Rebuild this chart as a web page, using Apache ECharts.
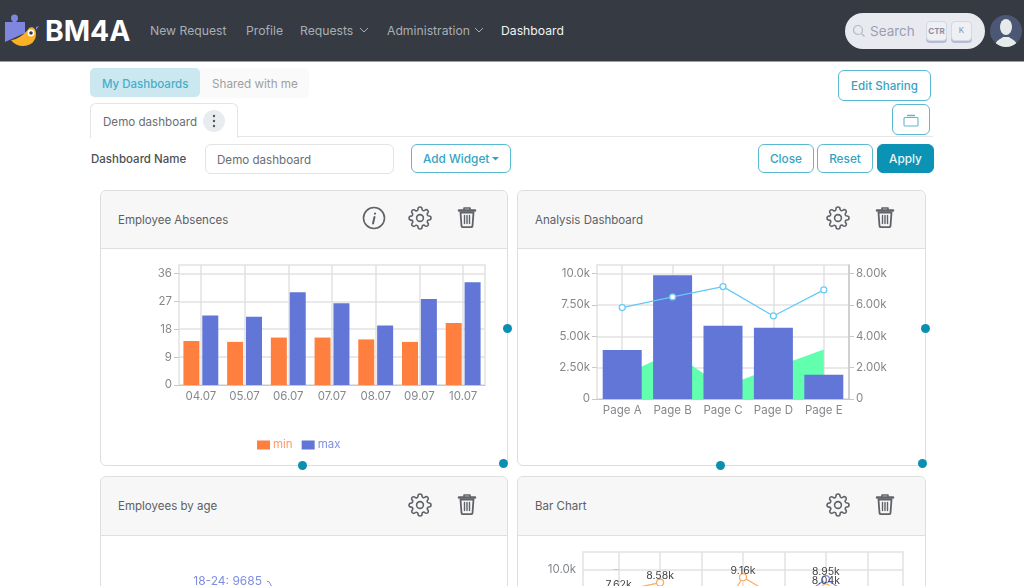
<!DOCTYPE html>
<html>
<head>
<meta charset="utf-8">
<title>Demo dashboard</title>
<script src="https://cdn.jsdelivr.net/npm/echarts@6/dist/echarts.min.js"></script>
<style>
html, body { margin: 0; padding: 0; width: 1024px; height: 586px; overflow: hidden; background: #fff; }
body, div, span { font-family: Inter, "Noto Sans", sans-serif; }
.a { position: absolute; box-sizing: border-box; }
.t { position: absolute; white-space: nowrap; line-height: 16px; }
.nav { top: 23px; font-size: 12.2px; color: #a9aeb5; }
.btn { position: absolute; box-sizing: border-box; height: 29px; top: 144px; border: 1.5px solid #5cb9d2; border-radius: 6px; color: #36a3c2; font-size: 11.8px; font-weight: 500; text-align: center; line-height: 28px; background: #fff; }
.card { position: absolute; box-sizing: border-box; background: #fff; border: 1px solid #dedede; border-radius: 6px; }
.head { position: absolute; left: 0; right: 0; top: 0; height: 58px; background: #f7f7f7; border-bottom: 1px solid #e0e0e0; border-radius: 6px 6px 0 0; }
.title { position: absolute; left: 17px; top: 21px; line-height: 16px; font-size: 11.5px; color: #5b6066; white-space: nowrap; }
.ico { position: absolute; width: 24px; height: 24px; fill: none; stroke: #5f6368; stroke-width: 1.6; stroke-linecap: round; stroke-linejoin: round; }
.dot { position: absolute; width: 9px; height: 9px; border-radius: 50%; background: #0a8fb0; }
.chart { position: absolute; }
</style>
</head>
<body>
<svg width="0" height="0" style="position:absolute">
  <symbol id="gear" viewBox="0 0 24 24"><circle cx="12" cy="12" r="3.4"/><path d="M19.4 15a1.65 1.65 0 0 0 .33 1.82l.06.06a2 2 0 0 1 0 2.83 2 2 0 0 1-2.83 0l-.06-.06a1.65 1.65 0 0 0-1.82-.33 1.65 1.65 0 0 0-1 1.51V21a2 2 0 0 1-2 2 2 2 0 0 1-2-2v-.09A1.65 1.65 0 0 0 9 19.4a1.65 1.65 0 0 0-1.82.33l-.06.06a2 2 0 0 1-2.83 0 2 2 0 0 1 0-2.83l.06-.06a1.65 1.65 0 0 0 .33-1.82 1.65 1.65 0 0 0-1.51-1H3a2 2 0 0 1-2-2 2 2 0 0 1 2-2h.09A1.65 1.65 0 0 0 4.6 9a1.65 1.65 0 0 0-.33-1.82l-.06-.06a2 2 0 0 1 0-2.83 2 2 0 0 1 2.83 0l.06.06a1.65 1.65 0 0 0 1.82.33H9a1.65 1.65 0 0 0 1-1.51V3a2 2 0 0 1 2-2 2 2 0 0 1 2 2v.09a1.65 1.65 0 0 0 1 1.51 1.65 1.65 0 0 0 1.82-.33l.06-.06a2 2 0 0 1 2.83 0 2 2 0 0 1 0 2.83l-.06.06a1.65 1.65 0 0 0-.33 1.82V9a1.65 1.65 0 0 0 1.51 1H21a2 2 0 0 1 2 2 2 2 0 0 1-2 2h-.09a1.65 1.65 0 0 0-1.51 1z"/></symbol>
  <symbol id="trash" viewBox="0 0 24 24"><path d="M4 5.5h16" stroke-width="2.4"/><path d="M9 4.5V3h6v1.5" stroke-width="1.6"/><path d="M5.5 7.5l1 13.5a1.5 1.5 0 0 0 1.5 1.2h8a1.5 1.5 0 0 0 1.5-1.2l1-13.5z" stroke-width="1.8"/><path d="M9.5 10.5v8M12 10.5v8M14.5 10.5v8" stroke-width="1.4"/></symbol>
</svg>

<!-- top bar -->
<div class="a" style="left:0;top:0;width:1024px;height:62px;background:#353a43;border-bottom:1px solid #9a9da1"></div>
<svg class="a" style="left:3px;top:14px" width="36" height="34" viewBox="0 0 36 34">
  <path d="M2 8h8c-1-1-2-2-2-4a3.5 3.5 0 0 1 7 0c0 2-1 3-2 4h9v11L2 28z" fill="#7f86dd"/>
  <path d="M8 26c6 0 14-6 18-12 4-2 7 1 7 6 0 7-5 12-13 12-5 0-9-2-12-6z" fill="#fbb025"/>
  <path d="M33 13l3-1-3 4z" fill="#7f86dd"/>
  <circle cx="28" cy="19" r="3.4" fill="#fff"/><circle cx="28" cy="19" r="1.8" fill="#353a43"/>
</svg>
<div class="t" style="left:45px;top:16px;line-height:30px;font-size:28.3px;font-weight:700;color:#fff">BM4A</div>
<div class="t nav" style="left:150px">New Request</div>
<div class="t nav" style="left:246px">Profile</div>
<div class="t nav" style="left:300px">Requests</div>
<svg class="a" style="left:359px;top:27px" width="10" height="7"><path d="M1 1l4 4 4-4" fill="none" stroke="#a9aeb5"/></svg>
<div class="t nav" style="left:387px">Administration</div>
<svg class="a" style="left:474px;top:27px" width="10" height="7"><path d="M1 1l4 4 4-4" fill="none" stroke="#a9aeb5"/></svg>
<div class="t nav" style="left:501px;color:#f2f3f4">Dashboard</div>

<div class="a" style="left:845px;top:13px;width:140px;height:36px;border-radius:18px;background:#e8eaef"></div>
<svg class="a" style="left:852px;top:24px" width="14" height="14"><circle cx="6" cy="6" r="4.5" fill="none" stroke="#b4b8c4" stroke-width="1.2"/><path d="M9.5 9.5l3 3" stroke="#b4b8c4" stroke-width="1.2"/></svg>
<div class="t" style="left:870px;top:23px;font-size:13.5px;color:#9a9fb3">Search</div>
<div class="a" style="left:926px;top:21px;width:21px;height:20px;background:#eef0f5;border-radius:4px;box-shadow:0 2px 0 #b9b9d6;border:1px solid #d5d7e2;text-align:center;font-size:8px;font-weight:700;line-height:18px;color:#8a8fa3">CTR</div>
<div class="a" style="left:951px;top:21px;width:21px;height:20px;background:#eef0f5;border-radius:4px;box-shadow:0 2px 0 #b9b9d6;border:1px solid #d5d7e2;text-align:center;font-size:8px;line-height:16px;color:#8a8fa3">K</div>
<svg class="a" style="left:990px;top:15px" width="32" height="32" viewBox="0 0 32 32">
  <clipPath id="ac"><circle cx="16" cy="16" r="16"/></clipPath>
  <circle cx="16" cy="16" r="16" fill="#4b5775"/>
  <g clip-path="url(#ac)" fill="#e6ebe9"><ellipse cx="16" cy="12" rx="6" ry="8"/><path d="M5 32c0-7 6-8 8-10h6c2 2 8 3 8 10z"/></g>
</svg>

<!-- tabs row -->
<div class="a" style="left:90px;top:68px;width:219px;height:30px;background:#fafafa;border-radius:5px"></div>
<div class="a" style="left:90px;top:68px;width:110px;height:29px;background:#cbe7ef;border-radius:5px"></div>
<div class="t" style="left:102px;top:75.5px;font-size:11.5px;font-weight:500;color:#46aecb">My Dashboards</div>
<div class="t" style="left:212px;top:75.5px;font-size:11.7px;color:#a0a0a0">Shared with me</div>
<div class="btn" style="left:838px;top:70px;width:93px;height:31px;line-height:30px;font-size:11.6px">Edit Sharing</div>
<div class="btn" style="left:892px;top:104px;width:38px;height:31px"></div>
<svg class="a" style="left:903px;top:113px" width="16" height="14"><path d="M4 2.5h8" stroke="#5cb9d2" stroke-width="1.5"/><rect x="1" y="4.5" width="14" height="8.5" rx="1" fill="none" stroke="#5cb9d2" stroke-width="1.1"/></svg>
<div class="a" style="left:237px;top:136px;width:696px;height:1px;background:#e6e6e6"></div>
<div class="a" style="left:90px;top:103px;width:148px;height:35px;background:#fff;border:1px solid #e4e4e4;border-bottom:0;border-radius:6px 6px 0 0"></div>
<div class="t" style="left:103px;top:113.500px;font-size:11.6px;color:#6a6e73">Demo dashboard</div>
<div class="a" style="left:203px;top:110px;width:22px;height:22px;border-radius:50%;background:#e9ecef"></div>
<svg class="a" style="left:212px;top:113px" width="4" height="16"><circle cx="2" cy="3" r="1.2" fill="#555"/><circle cx="2" cy="8" r="1.2" fill="#555"/><circle cx="2" cy="13" r="1.2" fill="#555"/></svg>

<!-- name row -->
<div class="t" style="left:91px;top:151px;font-size:11.5px;font-weight:500;color:#4b4f54">Dashboard Name</div>
<div class="a" style="left:205px;top:144px;width:189px;height:30px;border:1px solid #e3e3e3;border-radius:6px"></div>
<div class="t" style="left:217px;top:151.500px;font-size:11.6px;color:#6a6e73">Demo dashboard</div>
<div class="btn" style="left:411px;width:100px;text-align:left;padding-left:11px">Add Widget</div>
<svg class="a" style="left:492px;top:157px" width="8" height="4"><path d="M0 0h7l-3.500 3.500z" fill="#36a3c2"/></svg>
<div class="btn" style="left:758px;width:56px">Close</div>
<div class="btn" style="left:817px;width:56px">Reset</div>
<div class="btn" style="left:877px;width:57px;background:#0b93b5;border-color:#0b93b5;color:#eaf6fa">Apply</div>

<!-- widgets -->
<div class="card" style="left:100px;top:190px;width:408px;height:276px"><div class="head" style="height:57px"><div class="title">Employee Absences</div></div></div>
<div class="card" style="left:517px;top:190px;width:409px;height:276px"><div class="head" style="height:57px"><div class="title">Analysis Dashboard</div></div></div>
<div class="card" style="left:100px;top:476px;width:408px;height:300px"><div class="head"><div class="title">Employees by age</div></div></div>
<div class="card" style="left:517px;top:476px;width:409px;height:300px"><div class="head"><div class="title">Bar Chart</div></div></div>

<svg class="ico" style="left:362px;top:206px" viewBox="0 0 24 24"><circle cx="12" cy="12" r="10.500"/><path d="M13 7.500v.2M12.500 11l-1.500 6.500" stroke-width="2"/></svg>
<svg class="ico" style="left:408px;top:206px"><use href="#gear"/></svg>
<svg class="ico" style="left:455px;top:205px"><use href="#trash"/></svg>
<svg class="ico" style="left:826px;top:206px"><use href="#gear"/></svg>
<svg class="ico" style="left:873px;top:205px"><use href="#trash"/></svg>
<svg class="ico" style="left:408px;top:493px"><use href="#gear"/></svg>
<svg class="ico" style="left:455px;top:492px"><use href="#trash"/></svg>
<svg class="ico" style="left:826px;top:493px"><use href="#gear"/></svg>
<svg class="ico" style="left:873px;top:492px"><use href="#trash"/></svg>

<div id="et1" class="chart" style="left:100px;top:249px;width:407px;height:216px"></div>
<div id="et2" class="chart" style="left:517px;top:249px;width:408px;height:216px"></div>
<div id="et3" class="chart" style="left:100px;top:536px;width:407px;height:240px"></div>
<div id="et4" class="chart" style="left:517px;top:536px;width:408px;height:240px"></div>

<div class="dot" style="left:503px;top:324px"></div>
<div class="dot" style="left:921px;top:324px"></div>
<div class="dot" style="left:298px;top:461px"></div>
<div class="dot" style="left:499px;top:459px"></div>
<div class="dot" style="left:716px;top:461px"></div>
<div class="dot" style="left:918px;top:459px"></div>

<script>
// Employee Absences
var absenceDays = ['04.07', '05.07', '06.07', '07.07', '08.07', '09.07', '10.07'];
var absenceMin = [14.2, 13.9, 15.3, 15.3, 14.7, 13.9, 20.0];
var absenceMax = [22.4, 22.0, 29.9, 26.4, 19.2, 27.7, 33.1];
var absenceTicks = [0, 9, 18, 27, 36];

// Analysis Dashboard
var pageNames = ['Page A', 'Page B', 'Page C', 'Page D', 'Page E'];
var pageBars = [3900, 9870, 5850, 5690, 1940];
var pageLine = [5830, 6510, 7170, 5300, 6960];
var pageArea = [1860, 3750, 960, 2500, 3940];
var pageLeftTicks = [0, 2500, 5000, 7500, 10000];
var pageRightTicks = [0, 2000, 4000, 6000, 8000];

// Employees by age, only the first label is above the fold
var ageNames = ['18-24'];
var ageValues = [9685];

// Bar Chart, cut off by the window, lower points are rough guesses
var barIndex = [0, 1, 2, 3, 4, 5, 6];
var barOrange = [7620, 8580, 2000, 9160, 6500, 8040, 5000];
var barBlue = [5200, 4100, 6300, 3900, 5800, 8950, 6100];
var barTicks = [0, 2500, 5000, 7500, 10000];

var textColor = '#85888c';
var lineColor = '#e2e2e2';
var axisColor = '#c8c8c8';
var orange = '#ff7f3f';
var blue = '#6176d6';
var labelSize = 11.5;

function fmtK(v) {
    if (v == 0) return '0';
    return (v / 1000).toFixed(v >= 10000 ? 1 : 2) + 'k';
}

~function () {
    var myChart = echarts.init(et1);
    var option = {
        animation: false,
        textStyle: {fontFamily: 'Inter'},
        legend: {
            left: 152,
            top: 185,
            itemWidth: 13,
            itemHeight: 9,
            itemGap: 9,
            icon: 'rect',
            textStyle: {fontSize: labelSize, padding: [0, 0, 0, -2]},
            data: [
                {name: 'min', textStyle: {color: '#ff9a68'}},
                {name: 'max', textStyle: {color: '#7f90e2'}}
            ]
        },
        grid: {left: 79, top: 16, width: 306, height: 120, show: true, borderColor: lineColor, borderWidth: 1.5},
        xAxis: {
            type: 'category',
            data: absenceDays,
            axisLine: {lineStyle: {color: axisColor}},
            axisTick: {alignWithLabel: true, length: 5, lineStyle: {color: axisColor}},
            axisLabel: {color: textColor, fontSize: labelSize, margin: 6, interval: 0},
            splitLine: {show: true, alignWithLabel: true, interval: 0, lineStyle: {color: lineColor, width: 1.5}}
        },
        yAxis: {
            type: 'value',
            min: 0,
            max: 38.7,
            axisLine: {show: false},
            axisTick: {show: true, length: 5, customValues: absenceTicks, lineStyle: {color: axisColor}},
            axisLabel: {color: textColor, fontSize: labelSize, margin: 7, customValues: absenceTicks},
            splitLine: {show: true, lineStyle: {color: lineColor, width: 1.5}}
        },
        series: [
            {
                name: 'min',
                type: 'bar',
                data: absenceMin,
                barWidth: 16,
                barGap: '18%',
                itemStyle: {color: orange}
            },
            {
                name: 'max',
                type: 'bar',
                data: absenceMax,
                barWidth: 16,
                itemStyle: {color: blue}
            }
        ]
    };
    myChart.setOption(option);
}();

~function () {
    var myChart = echarts.init(et2);
    var option = {
        animation: false,
        textStyle: {fontFamily: 'Inter'},
        grid: {left: 80, top: 16, width: 252, height: 134, show: true, borderColor: lineColor, borderWidth: 1.5},
        xAxis: {
            type: 'category',
            data: pageNames,
            axisLine: {lineStyle: {color: axisColor}},
            axisTick: {alignWithLabel: true, length: 5, lineStyle: {color: axisColor}},
            axisLabel: {color: textColor, fontSize: labelSize, margin: 6, interval: 0},
            splitLine: {show: true, alignWithLabel: true, interval: 0, lineStyle: {color: lineColor, width: 1.5}}
        },
        yAxis: [
            {
                type: 'value',
                min: 0,
                max: 10686,
                axisLine: {show: false},
                axisTick: {show: true, length: 5, customValues: pageLeftTicks, lineStyle: {color: axisColor}},
                axisLabel: {color: textColor, fontSize: labelSize, margin: 7, customValues: pageLeftTicks, formatter: fmtK},
                splitLine: {show: true, lineStyle: {color: lineColor, width: 1.5}}
            },
            {
                type: 'value',
                min: 0,
                max: 8549,
                position: 'right',
                axisLine: {show: true, lineStyle: {color: axisColor, width: 1.5}},
                axisTick: {show: true, length: 5, customValues: pageRightTicks, lineStyle: {color: axisColor}},
                axisLabel: {color: textColor, fontSize: labelSize, margin: 7, customValues: pageRightTicks, formatter: fmtK},
                splitLine: {show: false}
            }
        ],
        series: [
            {
                type: 'line',
                data: pageArea,
                showSymbol: false,
                lineStyle: {width: 0},
                areaStyle: {color: '#62ffae', opacity: 1},
                z: 1
            },
            {
                type: 'bar',
                data: pageBars,
                barWidth: 39,
                itemStyle: {color: blue},
                z: 2
            },
            {
                type: 'line',
                yAxisIndex: 1,
                data: pageLine,
                symbol: 'circle',
                symbolSize: 6,
                lineStyle: {color: '#64c8f7', width: 1.2},
                itemStyle: {color: '#fff', borderColor: '#64c8f7', borderWidth: 1.2},
                z: 3
            }
        ]
    };
    myChart.setOption(option);
}();

~function () {
    var myChart = echarts.init(et3);
    var option = {
        animation: false,
        textStyle: {fontFamily: 'Inter'},
        series: [
            {
                type: 'pie',
                center: [220, 134],
                radius: [0, 80],
                startAngle: 300,
                data: ageNames.map(function (name, i) {
                    return {name: name, value: ageValues[i]};
                }),
                itemStyle: {color: '#7f8fe2'},
                label: {
                    formatter: '{b}: {c}',
                    color: '#7f8fe2',
                    fontSize: 12
                },
                labelLine: {length: 22, length2: 2, lineStyle: {color: '#7f8fe2'}}
            }
        ]
    };
    myChart.setOption(option);
}();

~function () {
    var myChart = echarts.init(et4);
    var option = {
        animation: false,
        textStyle: {fontFamily: 'Inter'},
        grid: {left: 66, top: 16, width: 320, height: 109, show: true, borderColor: lineColor, borderWidth: 1.5},
        xAxis: {
            type: 'value',
            min: -0.86,
            max: 6.86,
            axisLine: {show: false},
            axisTick: {show: false, customValues: barIndex},
            axisLabel: {show: false},
            splitLine: {show: true, lineStyle: {color: lineColor, width: 1.5}}
        },
        yAxis: {
            type: 'value',
            min: 0,
            max: 11920,
            axisLine: {show: false},
            axisTick: {show: true, length: 5, customValues: barTicks, lineStyle: {color: axisColor}},
            axisLabel: {color: textColor, fontSize: labelSize, margin: 7, customValues: barTicks, formatter: fmtK},
            splitLine: {show: true, lineStyle: {color: lineColor, width: 1.5}}
        },
        series: [
            {
                type: 'line',
                data: barBlue.map(function (v, i) { return [barIndex[i], v]; }),
                symbol: 'circle',
                symbolSize: 7,
                lineStyle: {color: '#7f8fe2', width: 1.2},
                itemStyle: {color: '#fff', borderColor: '#7f8fe2', borderWidth: 1.2},
                label: {show: true, position: 'top', distance: -2, color: '#444', fontSize: 10.5, formatter: function (p) { return fmtK(p.value[1]); }}
            },
            {
                type: 'line',
                data: barOrange.map(function (v, i) { return [barIndex[i], v]; }),
                symbol: 'circle',
                symbolSize: 7,
                lineStyle: {color: '#fdab5f', width: 1.2},
                itemStyle: {color: '#fff', borderColor: '#fdab5f', borderWidth: 1.2},
                label: {show: true, position: 'top', distance: -3, color: '#444', fontSize: 10.5, formatter: function (p) { return fmtK(p.value[1]); }}
            }
        ]
    };
    myChart.setOption(option);
}();
</script>
</body>
</html>
